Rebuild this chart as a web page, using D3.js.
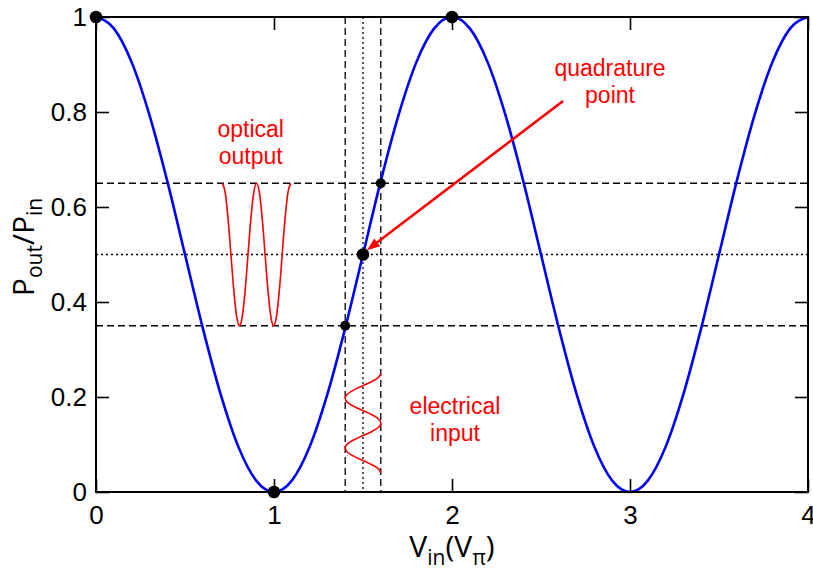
<!DOCTYPE html>
<html>
<head>
<meta charset="utf-8">
<script src="https://cdn.jsdelivr.net/npm/d3@7"></script>
<style>
  html, body { margin: 0; padding: 0; background: #fff; }
  svg { display: block; }
</style>
</head>
<body>
<svg id="chart" width="813" height="569"></svg>
<script>
// Modulator transfer curve, sampled every 0.1 V_pi from 0 to 4
const transferStep = 0.1;
const transferValues = [
  1, 0.976, 0.905, 0.794, 0.655, 0.5, 0.345, 0.206, 0.095, 0.024, 0,
  0.024, 0.095, 0.206, 0.345, 0.5, 0.655, 0.794, 0.905, 0.976, 1,
  0.976, 0.905, 0.794, 0.655, 0.5, 0.345, 0.206, 0.095, 0.024, 0,
  0.024, 0.095, 0.206, 0.345, 0.5, 0.655, 0.794, 0.905, 0.976, 1
];

// Optical output trace (y values), spread evenly between two x limits
const opticalXRange = [0.71, 1.094];
const opticalValues = [
  0.65, 0.630, 0.575, 0.5, 0.425, 0.370, 0.35, 0.370, 0.425, 0.5, 0.575, 0.630,
  0.65, 0.630, 0.575, 0.5, 0.425, 0.370, 0.35, 0.370, 0.425, 0.5, 0.575, 0.630, 0.65
];

// Electrical input trace (x values), spread evenly between two y limits
const electricalYRange = [0.25, 0.04];
const electricalValues = [
  1.6, 1.587, 1.55, 1.5, 1.45, 1.413, 1.4, 1.413, 1.45, 1.5, 1.55, 1.587,
  1.6, 1.587, 1.55, 1.5, 1.45, 1.413, 1.4, 1.413, 1.45, 1.5, 1.55, 1.587, 1.6
];

// Reference lines
const dashedX = [1.4, 1.6];
const dottedX = [1.5];
const dashedY = [0.35, 0.65];
const dottedY = [0.5];

// Marked points
const bigDotsX = [0, 1, 2, 1.5];
const bigDotsY = [1, 0, 1, 0.5];
const smallDotsX = [1.4, 1.6];
const smallDotsY = [0.35, 0.65];

// Arrow to the quadrature point
const arrowFrom = [2.624, 0.823];
const arrowTo = [1.522, 0.509];

// Axis ticks
const xTicks = [0, 1, 2, 3, 4];
const xTickLabels = ["0", "1", "2", "3", "4"];
const yTicks = [0, 0.2, 0.4, 0.6, 0.8, 1];
const yTickLabels = ["0", "0.2", "0.4", "0.6", "0.8", "1"];

const svg = d3.select("#chart");
const plotLeft = 96, plotRight = 808, plotTop = 17, plotBottom = 492;

const x = d3.scaleLinear().domain([0, 4]).range([plotLeft, plotRight]);
const y = d3.scaleLinear().domain([0, 1]).range([plotBottom, plotTop]);

const tickFont = "'Liberation Sans', Arial, sans-serif";
const titleFont = "'Open Sans', 'Noto Sans', sans-serif";

// Reference lines
const guides = svg.append("g").attr("stroke", "#000").attr("stroke-width", 1.3).attr("fill", "none");
dashedX.forEach(v => guides.append("line")
  .attr("x1", x(v)).attr("x2", x(v)).attr("y1", plotTop).attr("y2", plotBottom)
  .attr("stroke-dasharray", "7,4"));
dottedX.forEach(v => guides.append("line")
  .attr("x1", x(v)).attr("x2", x(v)).attr("y1", plotTop).attr("y2", plotBottom)
  .attr("stroke-dasharray", "2,3"));
dashedY.forEach(v => guides.append("line")
  .attr("x1", plotLeft).attr("x2", plotRight).attr("y1", y(v)).attr("y2", y(v))
  .attr("stroke-dasharray", "7,4"));
dottedY.forEach(v => guides.append("line")
  .attr("x1", plotLeft).attr("x2", plotRight).attr("y1", y(v)).attr("y2", y(v))
  .attr("stroke-dasharray", "2,3"));

// Transfer curve
const transferLine = d3.line()
  .x((d, i) => x(i * transferStep))
  .y(d => y(d))
  .curve(d3.curveMonotoneX);
svg.append("path")
  .datum(transferValues)
  .attr("d", transferLine)
  .attr("fill", "none")
  .attr("stroke", "#0000ff")
  .attr("stroke-width", 2.6);

// Optical output trace
const optX = d3.scaleLinear().domain([0, opticalValues.length - 1]).range(opticalXRange);
svg.append("path")
  .datum(opticalValues)
  .attr("d", d3.line().x((d, i) => x(optX(i))).y(d => y(d)).curve(d3.curveMonotoneX))
  .attr("fill", "none")
  .attr("stroke", "#ff0000")
  .attr("stroke-width", 1.6);

// Electrical input trace
const elY = d3.scaleLinear().domain([0, electricalValues.length - 1]).range(electricalYRange);
svg.append("path")
  .datum(electricalValues)
  .attr("d", d3.line().x(d => x(d)).y((d, i) => y(elY(i))).curve(d3.curveMonotoneY))
  .attr("fill", "none")
  .attr("stroke", "#ff0000")
  .attr("stroke-width", 1.6);

// Dots
svg.append("g").selectAll("circle")
  .data(bigDotsX.map((v, i) => [v, bigDotsY[i]]))
  .join("circle")
  .attr("cx", d => x(d[0])).attr("cy", d => y(d[1]))
  .attr("r", 6.3).attr("fill", "#000");
svg.append("g").selectAll("circle")
  .data(smallDotsX.map((v, i) => [v, smallDotsY[i]]))
  .join("circle")
  .attr("cx", d => x(d[0])).attr("cy", d => y(d[1]))
  .attr("r", 5).attr("fill", "#000");

// Arrow
const ax0 = x(arrowFrom[0]), ay0 = y(arrowFrom[1]);
const ax1 = x(arrowTo[0]), ay1 = y(arrowTo[1]);
const ang = Math.atan2(ay1 - ay0, ax1 - ax0);
const headLen = 13, headHalf = 5;
const bx = ax1 - headLen * Math.cos(ang), by = ay1 - headLen * Math.sin(ang);
svg.append("line")
  .attr("x1", ax0).attr("y1", ay0).attr("x2", bx + 2 * Math.cos(ang)).attr("y2", by + 2 * Math.sin(ang))
  .attr("stroke", "#ff0000").attr("stroke-width", 2.6);
svg.append("path")
  .attr("d", `M${ax1},${ay1}L${bx - headHalf * Math.sin(ang)},${by + headHalf * Math.cos(ang)}L${bx + headHalf * Math.sin(ang)},${by - headHalf * Math.cos(ang)}Z`)
  .attr("fill", "#ff0000");

// Axes with inward ticks
const axisStyle = g => {
  g.select(".domain").remove();
  g.selectAll(".tick line").attr("stroke", "#000").attr("stroke-width", 1.6);
  g.selectAll(".tick text").attr("font-family", tickFont).attr("font-size", 26).attr("fill", "#000");
};
svg.append("g").attr("transform", `translate(0,${plotBottom})`)
  .call(d3.axisBottom(x).tickValues(xTicks).tickFormat((d, i) => xTickLabels[i])
    .tickSizeInner(-13).tickSizeOuter(0).tickPadding(14))
  .call(axisStyle);
svg.append("g").attr("transform", `translate(0,${plotTop})`)
  .call(d3.axisTop(x).tickValues(xTicks).tickFormat("").tickSizeInner(-13).tickSizeOuter(0))
  .call(axisStyle);
svg.append("g").attr("transform", `translate(${plotLeft},0)`)
  .call(d3.axisLeft(y).tickValues(yTicks).tickFormat((d, i) => yTickLabels[i])
    .tickSizeInner(-13).tickSizeOuter(0).tickPadding(9))
  .call(axisStyle);
svg.append("g").attr("transform", `translate(${plotRight},0)`)
  .call(d3.axisRight(y).tickValues(yTicks).tickFormat("").tickSizeInner(-13).tickSizeOuter(0))
  .call(axisStyle);

// Frame
svg.append("rect")
  .attr("x", plotLeft).attr("y", plotTop).attr("width", plotRight - plotLeft).attr("height", plotBottom - plotTop)
  .attr("fill", "none").attr("stroke", "#000").attr("stroke-width", 2);

// Annotations
const note = (tx, ty, str) => svg.append("text")
  .attr("x", tx).attr("y", ty).attr("text-anchor", "middle")
  .attr("font-family", tickFont).attr("font-size", 23).attr("fill", "#ff0000").text(str);
note(250.7, 137, "optical");
note(250.7, 164, "output");
note(610, 76, "quadrature");
note(610, 103, "point");
note(455, 414, "electrical");
note(455, 441, "input");

// Axis titles
const xt = svg.append("text")
  .attr("x", 452).attr("y", 557).attr("text-anchor", "middle")
  .attr("font-family", titleFont).attr("font-size", 30).attr("fill", "#000");
xt.append("tspan").text("V");
xt.append("tspan").attr("font-size", 21).attr("dy", 8).text("in");
xt.append("tspan").attr("dy", -8).text("(V");
xt.append("tspan").attr("font-size", 21).attr("dy", 8).text("π");
xt.append("tspan").attr("dy", -8).text(")");

const yt = svg.append("text")
  .attr("transform", "translate(34,247) rotate(-90)")
  .attr("text-anchor", "middle")
  .attr("font-family", titleFont).attr("font-size", 30).attr("fill", "#000");
yt.append("tspan").text("P");
yt.append("tspan").attr("font-size", 21).attr("dy", 8).text("out");
yt.append("tspan").attr("dy", -8).text("/P");
yt.append("tspan").attr("font-size", 21).attr("dy", 8).text("in");
</script>
</body>
</html>
